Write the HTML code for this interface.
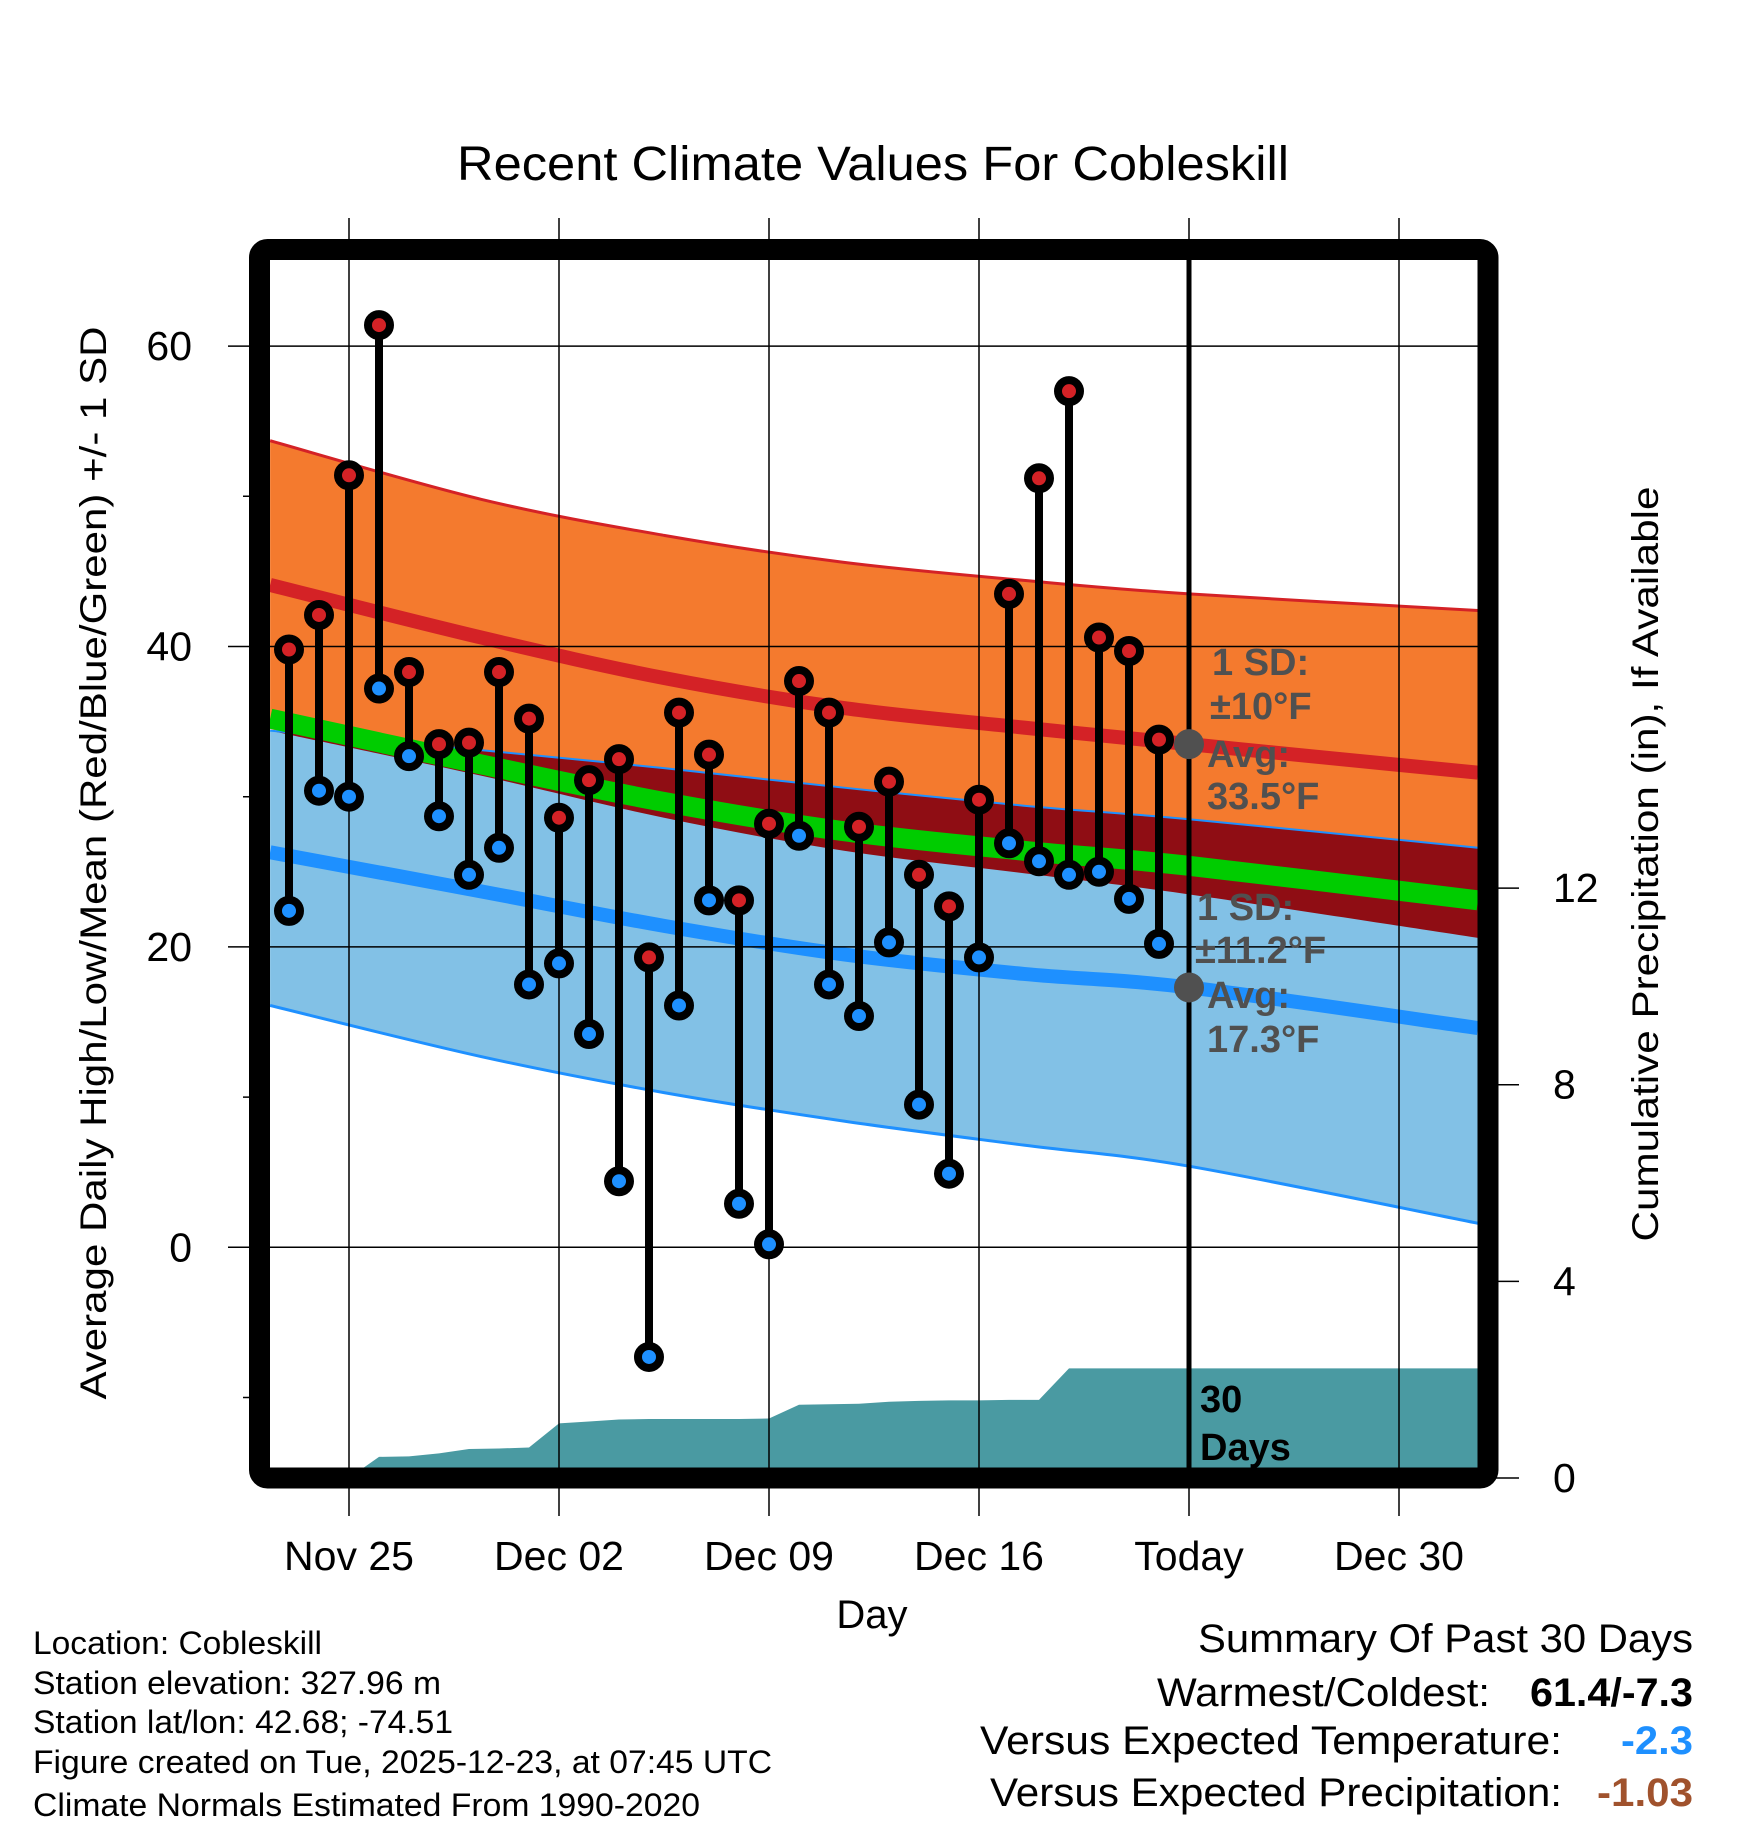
<!DOCTYPE html>
<html><head><meta charset="utf-8"><style>
html,body{margin:0;padding:0;background:#fff}
svg{display:block}
text{font-family:"Liberation Sans",Arial,sans-serif}
</style></head><body>
<svg id="chart" width="1748" height="1828" viewBox="0 0 1748 1828" xmlns="http://www.w3.org/2000/svg">
<defs><clipPath id="plotclip"><rect x="270" y="260" width="1208" height="1208"/></clipPath></defs>
<text x="873" y="180" font-size="48" text-anchor="middle" textLength="832" lengthAdjust="spacingAndGlyphs">Recent Climate Values For Cobleskill</text>
<g id="bands" clip-path="url(#plotclip)"></g>
<g id="grid"></g>
<g id="marks"></g>
<g id="annot"></g>
<rect x="259.5" y="249.5" width="1228.5" height="1228.5" rx="8" fill="none" stroke="#000" stroke-width="21"/>
<text transform="translate(106,863) rotate(-90)" font-size="37" text-anchor="middle" textLength="1073" lengthAdjust="spacingAndGlyphs">Average Daily High/Low/Mean (Red/Blue/Green) +/- 1 SD</text>
<text transform="translate(1658,864) rotate(-90)" font-size="37" text-anchor="middle" textLength="755" lengthAdjust="spacingAndGlyphs">Cumulative Precipitation (in), If Available</text>
<text x="872" y="1628" font-size="40" text-anchor="middle">Day</text>
<g font-size="32">
<text x="33" y="1654" textLength="289" lengthAdjust="spacingAndGlyphs">Location: Cobleskill</text>
<text x="33" y="1694" textLength="408" lengthAdjust="spacingAndGlyphs">Station elevation: 327.96 m</text>
<text x="33" y="1733" textLength="420" lengthAdjust="spacingAndGlyphs">Station lat/lon: 42.68; -74.51</text>
<text x="33" y="1773" textLength="739" lengthAdjust="spacingAndGlyphs">Figure created on Tue, 2025-12-23, at 07:45 UTC</text>
<text x="33" y="1816" textLength="667" lengthAdjust="spacingAndGlyphs">Climate Normals Estimated From 1990-2020</text>
</g>
<g font-size="40" text-anchor="end">
<text x="1693" y="1652" textLength="495" lengthAdjust="spacingAndGlyphs">Summary Of Past 30 Days</text>
<text x="1490" y="1706" textLength="333" lengthAdjust="spacingAndGlyphs">Warmest/Coldest:</text>
<text x="1693" y="1706" font-weight="bold" textLength="163" lengthAdjust="spacingAndGlyphs">61.4/-7.3</text>
<text x="1562" y="1754" textLength="582" lengthAdjust="spacingAndGlyphs">Versus Expected Temperature:</text>
<text x="1693" y="1754" font-weight="bold" fill="#1e90ff" textLength="72" lengthAdjust="spacingAndGlyphs">-2.3</text>
<text x="1562" y="1806" textLength="572" lengthAdjust="spacingAndGlyphs">Versus Expected Precipitation:</text>
<text x="1693" y="1806" font-weight="bold" fill="#a0522d" textLength="96" lengthAdjust="spacingAndGlyphs">-1.03</text>
</g>
</svg>
<script>
// Daily observations, Nov 23 .. Dec 22
const highs = [39.8,42.1,51.4,61.4,38.3,33.5,33.6,38.3,35.2,28.6,31.1,32.5,19.3,35.6,32.8,23.1,28.2,37.7,35.6,28.0,31.0,24.8,22.7,29.8,43.5,51.2,57.0,40.6,39.7,33.8];
const lows = [22.4,30.4,30.0,37.2,32.7,28.7,24.8,26.6,17.5,18.9,14.2,4.4,-7.3,16.1,23.1,2.9,0.2,27.4,17.5,15.4,20.3,9.5,4.9,19.3,26.9,25.7,24.8,25.0,23.2,20.2];
const precip = [0,0,0,0.43,0.44,0.50,0.59,0.60,0.62,1.11,1.15,1.19,1.20,1.20,1.20,1.20,1.21,1.49,1.50,1.51,1.55,1.57,1.58,1.58,1.59,1.59,2.23,2.23,2.23,2.23];
const firstDay = -2; // Nov 23 relative to Nov 25
// Normals sampled at day offsets (relative to Nov 25)
const normDays = [-2.63,4.4,10.5,16.5,22.5,28,37.63];
const normHigh = [44.1,40.6,37.9,35.9,34.6,33.5,31.6];
const highTopV = [53.7,49.8,47.4,45.6,44.4,43.5,42.4];
const highBotV = [34.5,31.4,28.6,26.4,24.9,23.5,20.6];
const normLow = [26.3,23.7,21.4,19.5,18.2,17.3,14.6];
const lowTopV = [34.4,33.1,31.9,30.6,29.4,28.5,26.6];
const lowBotV = [16.1,12.7,10.3,8.4,6.8,5.4,1.6];
const xTickLabels = ["Nov 25","Dec 02","Dec 09","Dec 16","Today","Dec 30"];
const yTicks = [0,20,40,60];
const yMinor = [-10,10,30,50];
const pTicks = [0,4,8,12];

const NS="http://www.w3.org/2000/svg";
const X = d => 349 + 30*d;
const Y = v => 1247.3 - 15.02*v;
const P = p => 1478 - 49.16*p;
function mk(tag, attrs, parent){const e=document.createElementNS(NS,tag);for(const k in attrs)e.setAttribute(k,attrs[k]);parent.appendChild(e);return e;}
const bands=document.getElementById('bands'),grid=document.getElementById('grid'),marks=document.getElementById('marks'),annot=document.getElementById('annot');
function ptsArr(arr){return normDays.map((d,i)=>[X(d),Y(arr[i])]);}
function curve(p,start){
  let s=(start?'M':'L')+p[0][0]+','+p[0][1];
  for(let i=0;i<p.length-1;i++){
    const p0=p[Math.max(i-1,0)],p1=p[i],p2=p[i+1],p3=p[Math.min(i+2,p.length-1)];
    const c1=[p1[0]+(p2[0]-p0[0])/6,p1[1]+(p2[1]-p0[1])/6];
    const c2=[p2[0]-(p3[0]-p1[0])/6,p2[1]-(p3[1]-p1[1])/6];
    s+=' C'+c1[0]+','+c1[1]+' '+c2[0]+','+c2[1]+' '+p2[0]+','+p2[1];
  }
  return s;
}
function lineD(arr){return curve(ptsArr(arr),true);}
function areaD(top,bot){return curve(ptsArr(top),true)+' '+curve(ptsArr(bot).reverse(),false)+' Z';}
let e;
e=mk('path',{d:areaD(highTopV,highBotV),fill:'#f47a2e'},bands);


e=mk('path',{d:areaD(lowTopV,lowBotV),fill:'#82c1e6'},bands);


const ovBot=highBotV.map((v,i)=>Math.min(v,lowTopV[i]));
e=mk('path',{d:areaD(lowTopV,ovBot),fill:'#8f0d14'},bands);


e=mk('path',{d:lineD(highTopV),fill:'none',stroke:'#d42226','stroke-width':3},bands);


e=mk('path',{d:lineD(lowTopV),fill:'none',stroke:'#1e90ff','stroke-width':2},bands);


e=mk('path',{d:lineD(lowBotV),fill:'none',stroke:'#1e90ff','stroke-width':3},bands);


const meanV=normHigh.map((v,i)=>(v+normLow[i])/2);
e=mk('path',{d:lineD(meanV),fill:'none',stroke:'#00cc00','stroke-width':20},bands);


e=mk('path',{d:lineD(normHigh),fill:'none',stroke:'#d42226','stroke-width':14},bands);


e=mk('path',{d:lineD(normLow),fill:'none',stroke:'#1e90ff','stroke-width':14},bands);


// precipitation area
let pp=X(firstDay)+','+P(0);
precip.forEach((p,i)=>{pp+=' '+X(firstDay+i)+','+P(p);});
pp+=' 1478,'+P(precip[precip.length-1])+' 1478,'+P(0);
e=mk('polygon',{points:pp,fill:'#4a9aa2'},bands);


// grid
xTickLabels.forEach((lab,i)=>{
  const x=X(i*7);
  e=mk('line',{x1:x,y1:218,x2:x,y2:1516,stroke:'#000','stroke-width':1.5},grid);
  
  
  e=mk('text',{x:x,y:1570,'font-size':41,'text-anchor':'middle'},grid);e.textContent=lab;
  
  
});
yTicks.forEach(v=>{
  const y=Y(v);
  e=mk('line',{x1:228,y1:y,x2:1478,y2:y,stroke:'#000','stroke-width':1.5},grid);
  
  
  e=mk('text',{x:192,y:y+14,'font-size':41,'text-anchor':'end'},grid);e.textContent=v;
  
  
});
yMinor.forEach(v=>{
  e=mk('line',{x1:243,y1:Y(v),x2:260,y2:Y(v),stroke:'#000','stroke-width':1.5},grid);
  
  
});
pTicks.forEach(p=>{
  e=mk('line',{x1:1488,y1:P(p),x2:1519,y2:P(p),stroke:'#000','stroke-width':1.5},grid);
  
  
  e=mk('text',{x:1553,y:P(p)+14,'font-size':41},grid);e.textContent=p;
  
  
});
// today line
e=mk('line',{x1:X(28),y1:255,x2:X(28),y2:1473,stroke:'#000','stroke-width':5},marks);


// daily stems and dots
highs.forEach((h,i)=>{
  const x=X(firstDay+i),l=lows[i];
  e=mk('line',{x1:x,y1:Y(h),x2:x,y2:Y(l),stroke:'#000','stroke-width':8},marks);
  
  
  e=mk('circle',{cx:x,cy:Y(h),r:11,fill:'#d42226',stroke:'#000','stroke-width':8},marks);
  
  
  e=mk('circle',{cx:x,cy:Y(l),r:11,fill:'#1e90ff',stroke:'#000','stroke-width':8},marks);
  
  
});
// annotations
const tx=X(28);
e=mk('circle',{cx:tx,cy:Y(normHigh[5]),r:15,fill:'#505050'},annot);


e=mk('circle',{cx:tx,cy:Y(normLow[5]),r:15,fill:'#505050'},annot);


const ann=[["1 SD:",1212,675],["±10°F",1210,719],["Avg:",1207,767],["33.5°F",1207,809],["1 SD:",1197,920],["±11.2°F",1195,963],["Avg:",1207,1008],["17.3°F",1207,1052]];
ann.forEach(a=>{
  e=mk('text',{x:a[1],y:a[2],'font-size':38,'font-weight':'bold',fill:'#505050'},annot);e.textContent=a[0];
  
  
});
e=mk('text',{x:1200,y:1412,'font-size':38,'font-weight':'bold'},annot);e.textContent="30";


e=mk('text',{x:1200,y:1460,'font-size':38,'font-weight':'bold'},annot);e.textContent="Days";


</script>
</body></html>
